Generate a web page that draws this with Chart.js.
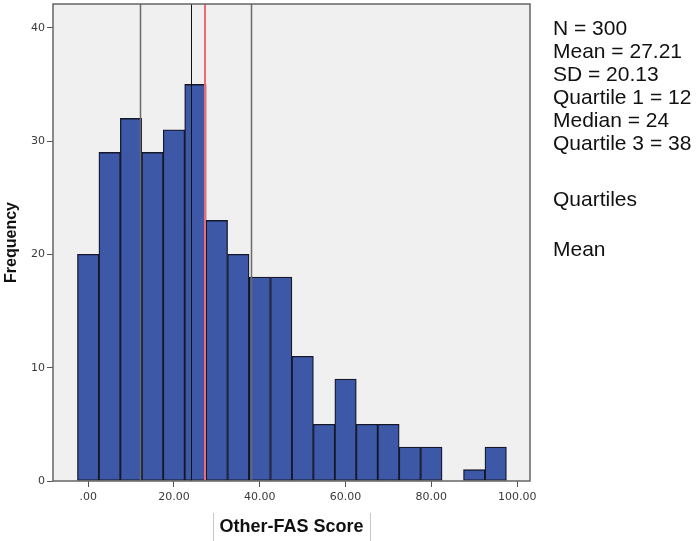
<!DOCTYPE html>
<html>
<head>
<meta charset="utf-8">
<script src="https://cdn.jsdelivr.net/npm/chart.js@4.4.1/dist/chart.umd.min.js"></script>
<style>
  body { margin: 0; background: #fff; }
  #wrap { position: relative; width: 696px; height: 541px; }
  .stat { position: absolute; left: 553px; font-family: "Liberation Sans", Arial, sans-serif; font-size: 21px; line-height: 23px; color: #111; white-space: nowrap; }
</style>
</head>
<body>
<div id="wrap">
  <canvas id="myChart" width="696" height="541"></canvas>
</div>
<script>
// histogram bins (centres) and counts
const binCenters = [0, 5, 10, 15, 20, 25, 30, 35, 40, 45, 50, 55, 60, 65, 70, 75, 80, 85, 90, 95];
const frequency  = [20, 29, 32, 29, 31, 35, 23, 20, 18, 18, 11, 5, 9, 5, 5, 3, 3, 0, 1, 3];
const xTicks = [0, 20, 40, 60, 80, 100];
const yTicks = [0, 10, 20, 30, 40];
const quartiles = [12, 24, 38];
const meanValue = 27.21;
const statLines = ['N = 300', 'Mean = 27.21', 'SD = 20.13', 'Quartile 1 = 12', 'Median = 24', 'Quartile 3 = 38'];
const legendLines = ['Quartiles', 'Mean'];

// stats text on the right
const wrap = document.getElementById('wrap');
statLines.forEach((t, i) => {
  const d = document.createElement('div');
  d.className = 'stat';
  d.style.top = (16 + i * 23) + 'px';
  d.textContent = t;
  wrap.appendChild(d);
});
[187, 237].forEach((top, i) => {
  const d = document.createElement('div');
  d.className = 'stat';
  d.style.top = top + 'px';
  d.textContent = legendLines[i];
  wrap.appendChild(d);
});

const plotFrame = {
  id: 'plotFrame',
  beforeDraw(chart) {
    const a = chart.chartArea, c = chart.ctx;
    c.save();
    c.fillStyle = '#f0f0f0';
    c.fillRect(a.left, a.top, a.right - a.left, a.bottom - a.top);
    c.restore();
  },
  afterDatasetsDraw(chart) {
    const a = chart.chartArea, c = chart.ctx, x = chart.scales.x;
    c.save();
    // quartile lines
    quartiles.forEach((q, i) => {
      const px = Math.round(x.getPixelForValue(q)) + 0.5;
      c.beginPath();
      c.strokeStyle = i === 1 ? '#111' : '#6a6a6a';
      c.lineWidth = i === 1 ? 1 : 1.5;
      c.moveTo(px, a.top);
      c.lineTo(px, a.bottom);
      c.stroke();
    });
    // mean line
    const mx = Math.round(x.getPixelForValue(meanValue));
    c.beginPath();
    c.strokeStyle = '#f06a74';
    c.lineWidth = 2;
    c.moveTo(mx, a.top);
    c.lineTo(mx, a.bottom);
    c.stroke();
    // frame
    c.strokeStyle = '#666';
    c.lineWidth = 1.5;
    c.strokeRect(a.left, a.top, a.right - a.left, a.bottom - a.top);
    c.restore();
  },
  afterDraw(chart) {
    // thin bars beside the x title
    const c = chart.ctx;
    const a = chart.chartArea;
    c.save();
    c.font = 'bold 18px "Liberation Sans", Arial, sans-serif';
    const w = c.measureText('Other-FAS Score').width;
    const cx = (a.left + a.right) / 2;
    c.strokeStyle = '#c8c8c8';
    c.lineWidth = 1;
    [cx - w / 2 - 6, cx + w / 2 + 6].forEach(px => {
      c.beginPath();
      c.moveTo(Math.round(px) + 0.5, 513);
      c.lineTo(Math.round(px) + 0.5, 541);
      c.stroke();
    });
    c.restore();
  }
};

const ctx = document.getElementById('myChart');
const myChart = new Chart(ctx, {
  type: 'bar',
  data: {
    datasets: [{
      data: binCenters.map((c, i) => ({ x: c, y: frequency[i] })),
      backgroundColor: '#3e58a8',
      borderColor: '#141829',
      borderWidth: 1.3,
      borderSkipped: false,
      barPercentage: 1,
      categoryPercentage: 1
    }]
  },
  options: {
    responsive: false,
    animation: false,
    layout: { padding: { top: 4, right: 166, left: 0, bottom: 0 } },
    plugins: {
      legend: { display: false },
      tooltip: { enabled: false }
    },
    scales: {
      x: {
        type: 'linear',
        offset: false,
        min: -8.2,
        max: 103,
        afterBuildTicks: s => { s.ticks = xTicks.map(v => ({ value: v })); },
        afterFit: s => { s.height = 60; s.paddingLeft = 0; s.paddingRight = 0; },
        grid: { display: true, offset: false, drawOnChartArea: false, drawTicks: true, tickLength: 6, color: '#555' },
        border: { display: false },
        ticks: {
          color: '#3a3a3a',
          padding: 4,
          maxRotation: 0,
          autoSkip: false,
          font: { family: '"DejaVu Sans"', size: 11 },
          callback: v => v === 0 ? '.00' : v.toFixed(2)
        },
        title: {
          display: true,
          text: 'Other-FAS Score',
          color: '#111',
          font: { family: '"Liberation Sans", Arial, sans-serif', size: 18, weight: 'bold' },
          padding: { top: 4, bottom: 3 }
        }
      },
      y: {
        min: 0,
        max: 42.1,
        afterBuildTicks: s => { s.ticks = yTicks.map(v => ({ value: v })); },
        afterFit: s => { s.width = 53; s.paddingTop = 0; s.paddingBottom = 0; },
        grid: { display: true, drawOnChartArea: false, drawTicks: true, tickLength: 6, color: '#555' },
        border: { display: false },
        ticks: {
          color: '#3a3a3a',
          padding: 2,
          font: { family: '"DejaVu Sans"', size: 11 }
        },
        title: {
          display: true,
          text: 'Frequency',
          color: '#111',
          font: { family: '"Liberation Sans", Arial, sans-serif', size: 16, weight: 'bold' },
          padding: { top: 2, bottom: 1 }
        }
      }
    }
  },
  plugins: [plotFrame]
});
</script>
</body>
</html>
